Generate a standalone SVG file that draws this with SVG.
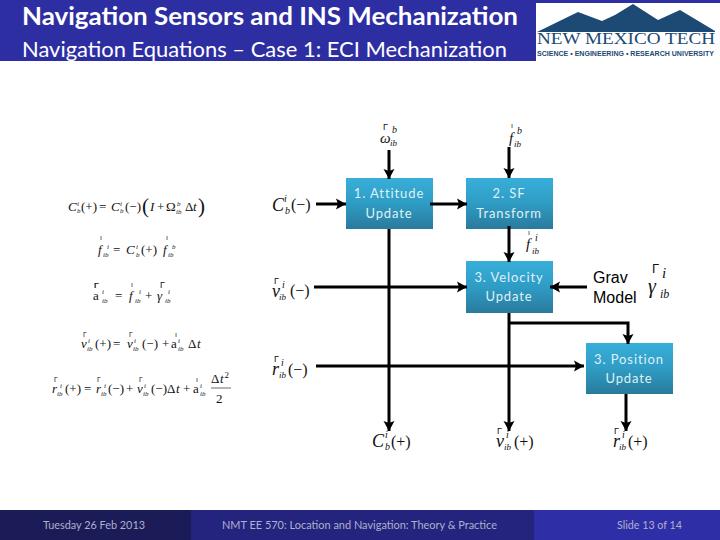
<svg xmlns="http://www.w3.org/2000/svg" width="720" height="540" viewBox="0 0 720 540">
<style>
.m{font-family:"Liberation Serif",serif;font-style:italic;fill:#111}
.r{font-style:normal}
.hat{font-family:"Liberation Sans",sans-serif;font-style:normal}
.s7{font-size:7px}
.s9{font-size:9px}
.s10{font-size:10px}
.e{font-size:13px}
.b{font-family:Lato,sans-serif;font-size:13px;fill:#dff1f8;text-anchor:middle;letter-spacing:.9px}
.f{font-family:Lato,sans-serif;font-size:11px;fill:#aeb0cc}
.c{fill:none;stroke:#000;stroke-width:3}
.g{font-family:"Liberation Sans",sans-serif;font-size:16px;fill:#000}
</style>
<defs>
<linearGradient id="bx" x1="0" y1="0" x2="0" y2="1"><stop offset="0" stop-color="#37afd9"/><stop offset=".5" stop-color="#2f9cc4"/><stop offset="1" stop-color="#297a9c"/></linearGradient>
<marker id="a" markerUnits="userSpaceOnUse" markerWidth="12" markerHeight="12" refX="10" refY="6" orient="auto"><path d="M0 .5L10 6L0 11.5L2 6Z" fill="#000"/></marker>
</defs>
<rect width="720" height="540" fill="#fff"/>
<g id="header">
<rect width="720" height="3" fill="#2e2ea3"/>
<rect width="536" height="61" fill="#2e2ea3"/>
<text x="22" y="25" font-family="Lato,sans-serif" font-weight="700" font-size="25" fill="#fff" textLength="496" lengthAdjust="spacingAndGlyphs">Navigation Sensors and INS Mechanization</text>
<text x="22" y="57" font-family="Lato,sans-serif" font-size="22" fill="#fff" textLength="485" lengthAdjust="spacingAndGlyphs">Navigation Equations – Case 1: ECI Mechanization</text>
</g>
<g id="logo">
<path d="M537 32L578 12L602 21L615 15L633 4L658 20L680 10L715 31L715 32Z" fill="#1c4a74"/>
<text x="537" y="44" font-family="Liberation Serif,serif" font-size="16.5" fill="#1c4a74" textLength="178" lengthAdjust="spacingAndGlyphs">NEW MEXICO TECH</text>
<text x="537" y="56" font-family="Liberation Sans,sans-serif" font-size="6.5" font-weight="700" fill="#1c4a74" textLength="177" lengthAdjust="spacingAndGlyphs">SCIENCE • ENGINEERING • RESEARCH UNIVERSITY</text>
</g>
<g id="attitude"><rect x="346" y="178" width="87" height="51" fill="url(#bx)"/><text class="b" x="389" y="198">1. Attitude</text><text class="b" x="389" y="218">Update</text></g>
<g id="sf"><rect x="466" y="178" width="87" height="51" fill="url(#bx)"/><text class="b" x="509" y="198">2. SF</text><text class="b" x="509" y="218">Transform</text></g>
<g id="velocity"><rect x="466" y="261" width="87" height="52" fill="url(#bx)"/><text class="b" x="509" y="282">3. Velocity</text><text class="b" x="509" y="301">Update</text></g>
<g id="position"><rect x="586" y="343" width="87" height="51" fill="url(#bx)"/><text class="b" x="629" y="364">3. Position</text><text class="b" x="629" y="383">Update</text></g>
<g id="connectors">
<path class="c" d="M389 150V179" marker-end="url(#a)"/>
<path class="c" d="M509 147V178" marker-end="url(#a)"/>
<path class="c" d="M316 204H346" marker-end="url(#a)"/>
<path class="c" d="M430 204H467" marker-end="url(#a)"/>
<path class="c" d="M509 226V262" marker-end="url(#a)"/>
<path class="c" d="M314 287H467" marker-end="url(#a)"/>
<path class="c" d="M587 287H550" marker-end="url(#a)"/>
<path class="c" d="M316 366H584" marker-end="url(#a)"/>
<path class="c" d="M389 229V431" marker-end="url(#a)"/>
<path class="c" d="M509 313V431" marker-end="url(#a)"/>
<path class="c" d="M509 323H628V344" marker-end="url(#a)"/>
<path class="c" d="M626 394V431" marker-end="url(#a)"/>
</g>
<g id="grav"><text class="g" x="593" y="283">Grav</text><text class="g" x="593" y="303">Model</text>
<text class="m" font-size="20"><tspan class="hat" font-size="13" x="652" y="273">Γ</tspan><tspan x="648" y="293">γ</tspan><tspan font-size="15" x="662" y="278">i</tspan><tspan font-size="12" x="660" y="298">ib</tspan></text></g>
<g id="inputs">
<text class="m" font-size="15"><tspan class="hat s9" x="383" y="130">Γ</tspan><tspan x="380" y="143">ω</tspan><tspan class="s10" x="392" y="133">b</tspan><tspan class="s9" x="390" y="146">ib</tspan></text>
<text class="m" font-size="15"><tspan class="hat s7" x="511" y="128">ı</tspan><tspan x="509" y="143">f</tspan><tspan class="s10" x="517" y="134">b</tspan><tspan class="s9" x="514" y="147">ib</tspan></text>
<text class="m" font-size="15"><tspan class="hat s7" x="528" y="235">ı</tspan><tspan x="526" y="249">f</tspan><tspan class="s10" x="535" y="241">i</tspan><tspan class="s9" x="532" y="254">ib</tspan></text>
</g>
<g id="states">
<text class="m" font-size="18"><tspan x="272" y="211">C</tspan><tspan class="s10" x="284" y="202">i</tspan><tspan class="s10" x="285" y="214">b</tspan><tspan class="r" font-size="16" x="291" y="210">(−)</tspan></text>
<text class="m" font-size="18"><tspan class="hat s9" x="274" y="284">Γ</tspan><tspan x="272" y="297">v</tspan><tspan class="s10" x="282" y="288">i</tspan><tspan class="s9" x="279" y="300">ib</tspan><tspan class="r" font-size="16" x="290" y="296">(−)</tspan></text>
<text class="m" font-size="18"><tspan class="hat s9" x="274" y="362">Γ</tspan><tspan x="272" y="375">r</tspan><tspan class="s10" x="281" y="366">i</tspan><tspan class="s9" x="279" y="378">ib</tspan><tspan class="r" font-size="16" x="288" y="375">(−)</tspan></text>
<text class="m" font-size="18"><tspan x="372" y="447">C</tspan><tspan class="s10" x="385" y="438">i</tspan><tspan class="s10" x="385" y="450">b</tspan><tspan class="r" font-size="16" x="391" y="447">(+)</tspan></text>
<text class="m" font-size="18"><tspan class="hat s9" x="497" y="434">Γ</tspan><tspan x="496" y="447">v</tspan><tspan class="s10" x="506" y="438">i</tspan><tspan class="s9" x="504" y="450">ib</tspan><tspan class="r" font-size="16" x="514" y="447">(+)</tspan></text>
<text class="m" font-size="18"><tspan class="hat s9" x="614" y="434">Γ</tspan><tspan x="613" y="447">r</tspan><tspan class="s10" x="622" y="438">i</tspan><tspan class="s9" x="619" y="450">ib</tspan><tspan class="r" font-size="16" x="628" y="447">(+)</tspan></text>
</g>
<g id="equations">
<text class="m e"><tspan x="68" y="211">C</tspan><tspan class="s7" x="77" y="206">i</tspan><tspan class="s7" x="77" y="213">b</tspan><tspan class="r" x="81" y="211">(+)</tspan><tspan class="r" x="99" y="211">=</tspan><tspan x="111" y="211">C</tspan><tspan class="s7" x="120" y="206">i</tspan><tspan class="s7" x="120" y="213">b</tspan><tspan class="r" x="125" y="211">(−)</tspan><tspan class="r" font-size="21" x="142" y="213">(</tspan><tspan x="150" y="211">I</tspan><tspan class="r" x="157" y="211">+</tspan><tspan class="r" x="166" y="211">Ω</tspan><tspan class="s7" x="177" y="206">b</tspan><tspan class="s7" x="176" y="214">ib</tspan><tspan class="r" x="185" y="211">Δ</tspan><tspan x="193" y="211">t</tspan><tspan class="r" font-size="21" x="198" y="213">)</tspan></text>
<text class="m e"><tspan class="hat s7" x="100" y="240">ı</tspan><tspan x="98" y="254">f</tspan><tspan class="s7" x="107" y="249">i</tspan><tspan class="s7" x="103" y="257">ib</tspan><tspan class="r" x="113" y="254">=</tspan><tspan x="126" y="254">C</tspan><tspan class="s7" x="136" y="249">i</tspan><tspan class="s7" x="136" y="257">b</tspan><tspan class="r" x="141" y="254">(+)</tspan><tspan class="hat s7" x="166" y="240">ı</tspan><tspan x="163" y="254">f</tspan><tspan class="s7" x="172" y="249">b</tspan><tspan class="s7" x="168" y="257">ib</tspan></text>
<text class="m e" font-size="14"><tspan class="hat" font-weight="700" font-size="8" x="94" y="288">Γ</tspan><tspan class="r" x="93" y="300">a</tspan><tspan class="s7" x="102" y="294">i</tspan><tspan class="s7" x="102" y="303">ib</tspan><tspan class="r" x="115" y="300">=</tspan><tspan class="hat s7" x="131" y="287">ı</tspan><tspan x="129" y="300">f</tspan><tspan class="s7" x="139" y="294">i</tspan><tspan class="s7" x="135" y="303">ib</tspan><tspan class="r" x="145" y="300">+</tspan><tspan class="hat" font-size="9" x="160" y="288">Γ</tspan><tspan x="157" y="300">γ</tspan><tspan class="s7" x="168" y="294">i</tspan><tspan class="s7" x="165" y="303">ib</tspan></text>
<text class="m e"><tspan class="hat s7" x="83" y="337">Γ</tspan><tspan x="81" y="348">v</tspan><tspan class="s7" x="88" y="343">i</tspan><tspan class="s7" x="87" y="351">ib</tspan><tspan class="r" x="95" y="348">(+)</tspan><tspan class="r" x="113" y="348">=</tspan><tspan class="hat s7" x="129" y="337">Γ</tspan><tspan x="127" y="348">v</tspan><tspan class="s7" x="134" y="343">i</tspan><tspan class="s7" x="133" y="351">ib</tspan><tspan class="r" x="142" y="348">(−)</tspan><tspan class="r" x="162" y="348">+</tspan><tspan class="hat s7" x="175" y="337">ı</tspan><tspan class="r" x="171" y="348">a</tspan><tspan class="s7" x="178" y="343">i</tspan><tspan class="s7" x="178" y="351">ib</tspan><tspan class="r" x="188" y="348">Δ</tspan><tspan x="197" y="348">t</tspan></text>
<text class="m e"><tspan class="hat s7" x="54" y="382">Γ</tspan><tspan x="52" y="393">r</tspan><tspan class="s7" x="60" y="388">i</tspan><tspan class="s7" x="57" y="396">ib</tspan><tspan class="r" x="65" y="393">(+)</tspan><tspan class="r" x="84" y="393">=</tspan><tspan class="hat s7" x="97" y="382">Γ</tspan><tspan x="96" y="393">r</tspan><tspan class="s7" x="104" y="388">i</tspan><tspan class="s7" x="101" y="396">ib</tspan><tspan class="r" x="108" y="393">(−)</tspan><tspan class="r" x="126" y="393">+</tspan><tspan class="hat s7" x="139" y="382">Γ</tspan><tspan x="137" y="393">v</tspan><tspan class="s7" x="144" y="388">i</tspan><tspan class="s7" x="143" y="396">ib</tspan><tspan class="r" x="151" y="393">(−)</tspan><tspan class="r" x="167" y="393">Δ</tspan><tspan x="176" y="393">t</tspan><tspan class="r" x="183" y="393">+</tspan><tspan class="hat s7" x="196" y="382">ı</tspan><tspan class="r" x="193" y="393">a</tspan><tspan class="s7" x="200" y="388">i</tspan><tspan class="s7" x="200" y="396">ib</tspan><tspan class="r" x="211" y="383">Δ</tspan><tspan x="220" y="383">t</tspan><tspan class="r s9" x="224.500" y="378">2</tspan><tspan class="r" x="216" y="403">2</tspan></text>
<path d="M211 388H231" stroke="#444" stroke-width=".8"/>
</g>
<g id="footer">
<rect y="510" width="191" height="30" fill="#1b1b58"/><rect x="191" y="510" width="343" height="30" fill="#24247f"/><rect x="534" y="510" width="186" height="30" fill="#2e2ea6"/>
<text class="f" x="43" y="529" textLength="102" lengthAdjust="spacingAndGlyphs">Tuesday 26 Feb 2013</text>
<text class="f" x="222" y="529" textLength="275" lengthAdjust="spacingAndGlyphs">NMT EE 570: Location and Navigation: Theory &amp; Practice</text>
<text class="f" x="617" y="529" textLength="65" lengthAdjust="spacingAndGlyphs">Slide 13 of 14</text>
</g>
</svg>
